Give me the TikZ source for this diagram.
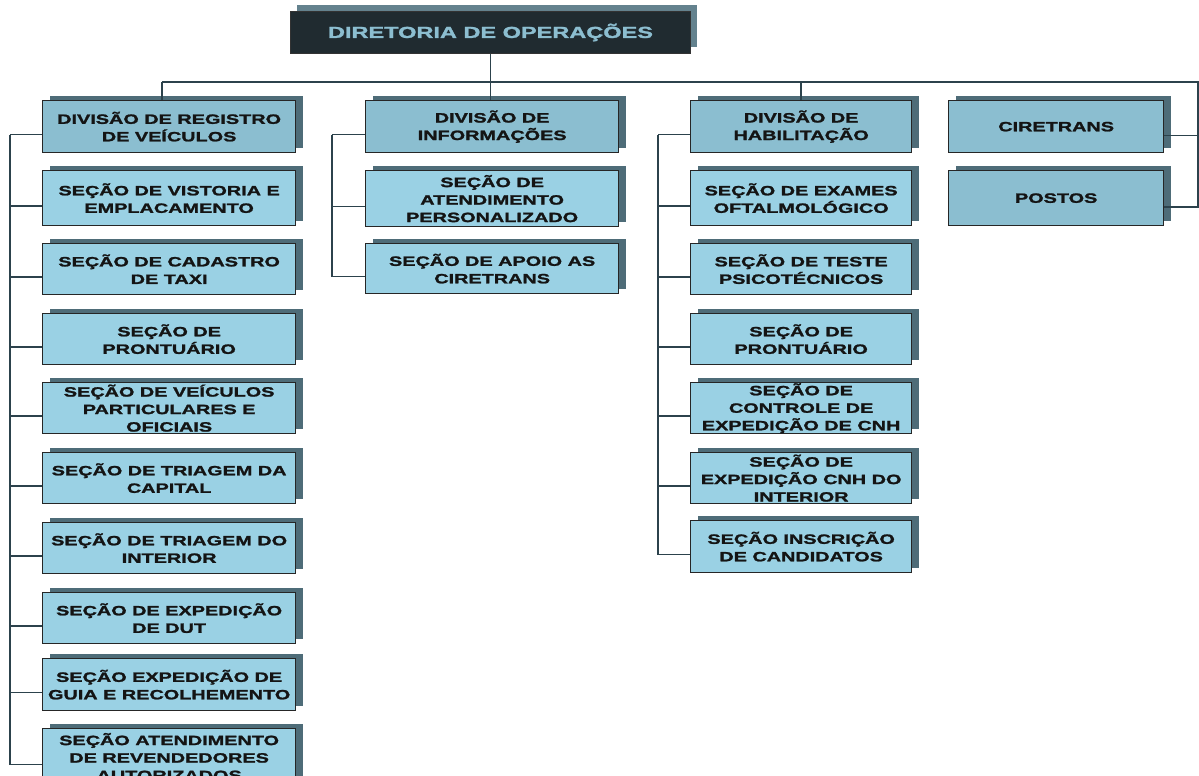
\documentclass[tikz,border=0pt]{standalone}
\usepackage{fontspec}
\newfontfamily\bx{Liberation Sans}[FakeStretch=1.47, BoldFeatures={FakeBold=1.6}]
\usetikzlibrary{calc,shadows}
\definecolor{divc}{RGB}{139,190,208}
\definecolor{secc}{RGB}{154,209,228}
\definecolor{shadowc}{RGB}{78,108,120}
\definecolor{topc}{RGB}{32,43,48}
\definecolor{toptext}{RGB}{140,190,208}
\definecolor{topshadow}{RGB}{100,130,142}
\definecolor{linec}{RGB}{44,66,76}
\tikzset{
  base/.style={draw=black!85, line width=1.3pt, align=center, inner sep=0pt, anchor=north west,
    font=\bx\bfseries\fontsize{13.5}{17.5}\selectfont, text=black!92,
    general shadow={fill=shadowc, shadow xshift=7pt, shadow yshift=5pt}},
  divbox/.style={base, fill=divc},
  secbox/.style={base, fill=secc},
  conn/.style={draw=linec, line width=1.5pt},
}
\begin{document}
\begin{tikzpicture}[x=1pt,y=-1pt]
\clip (0,0) rectangle (1199,776);
\fill[white] (0,0) rectangle (1199,776);
% director
\node[draw=black!80, line width=1pt, fill=topc, text=toptext, minimum width=400pt, minimum height=42pt,
  anchor=north west, inner sep=0pt, font=\bx\bfseries\fontsize{16}{20}\selectfont,
  general shadow={fill=topshadow, shadow xshift=6pt, shadow yshift=6pt}] (D) at (290,11) {DIRETORIA DE OPERAÇÕES};
% left column
\node[divbox, minimum width=253pt, minimum height=52pt] (L1) at (42,100) {DIVISÃO DE REGISTRO\\DE VEÍCULOS};
\node[secbox, minimum width=253pt, minimum height=55pt] (L2) at (42,170) {SEÇÃO DE VISTORIA E\\EMPLACAMENTO};
\node[secbox, minimum width=253pt, minimum height=51pt] (L3) at (42,243) {SEÇÃO DE CADASTRO\\DE TAXI};
\node[secbox, minimum width=253pt, minimum height=51pt] (L4) at (42,313) {SEÇÃO DE\\PRONTUÁRIO};
\node[secbox, minimum width=253pt, minimum height=51pt] (L5) at (42,382) {SEÇÃO DE VEÍCULOS\\PARTICULARES E\\OFICIAIS};
\node[secbox, minimum width=253pt, minimum height=51pt] (L6) at (42,452) {SEÇÃO DE TRIAGEM DA\\CAPITAL};
\node[secbox, minimum width=253pt, minimum height=51pt] (L7) at (42,522) {SEÇÃO DE TRIAGEM DO\\INTERIOR};
\node[secbox, minimum width=253pt, minimum height=51pt] (L8) at (42,592) {SEÇÃO DE EXPEDIÇÃO\\DE DUT};
\node[secbox, minimum width=253pt, minimum height=52pt] (L9) at (42,658) {SEÇÃO EXPEDIÇÃO DE\\GUIA E RECOLHEMENTO};
\node[secbox, minimum width=253pt, minimum height=56pt] (L10) at (42,728) {SEÇÃO ATENDIMENTO\\DE REVENDEDORES\\AUTORIZADOS};
% middle column
\node[divbox, minimum width=253pt, minimum height=52pt] (I1) at (365,100) {DIVISÃO DE\\INFORMAÇÕES};
\node[secbox, minimum width=253pt, minimum height=56pt] (I2) at (365,170) {SEÇÃO DE\\ATENDIMENTO\\PERSONALIZADO};
\node[secbox, minimum width=253pt, minimum height=50pt] (I3) at (365,243) {SEÇÃO DE APOIO AS\\CIRETRANS};
% right column
\node[divbox, minimum width=221pt, minimum height=52pt] (H1) at (690,100) {DIVISÃO DE\\HABILITAÇÃO};
\node[secbox, minimum width=221pt, minimum height=55pt] (H2) at (690,170) {SEÇÃO DE EXAMES\\OFTALMOLÓGICO};
\node[secbox, minimum width=221pt, minimum height=51pt] (H3) at (690,243) {SEÇÃO DE TESTE\\PSICOTÉCNICOS};
\node[secbox, minimum width=221pt, minimum height=51pt] (H4) at (690,313) {SEÇÃO DE\\PRONTUÁRIO};
\node[secbox, minimum width=221pt, minimum height=51pt] (H5) at (690,382) {SEÇÃO DE\\CONTROLE DE\\EXPEDIÇÃO DE CNH};
\node[secbox, minimum width=221pt, minimum height=51pt] (H6) at (690,452) {SEÇÃO DE\\EXPEDIÇÃO CNH DO\\INTERIOR};
\node[secbox, minimum width=221pt, minimum height=52pt] (H7) at (690,520) {SEÇÃO INSCRIÇÃO\\DE CANDIDATOS};
% far right
\node[divbox, minimum width=215pt, minimum height=52pt] (C) at (948,100) {CIRETRANS};
\node[divbox, minimum width=215pt, minimum height=55pt] (P) at (948,170) {POSTOS};
% connectors
\coordinate (busL) at (162,82);
\coordinate (busR) at (1198,82);
\draw[conn] (D.south) -- (D.south |- I1.north);
\draw[conn] (busL) -- (busL |- L1.north);
\draw[conn] (H1.north) -- (H1.north |- busL);
\coordinate (ps) at ($(P.east)+(0,9)$);
\coordinate (cs) at ($(C.east)+(0,9)$);
\draw[conn] (busL) -- (busR) |- (ps);
\draw[conn] (cs) -- (cs -| busR);
% left bracket
\foreach \k in {1,...,10} {\draw[conn] ($(L\k.west)+(0,8)$) -- ++(-32,0);}
\draw[conn] ($(L1.west)+(-32,8)$) -- ($(L10.west)+(-32,8)$);
% middle bracket
\foreach \k in {1,2,3} {\draw[conn] ($(I\k.west)+(0,8)$) -- ++(-33,0);}
\draw[conn] ($(I1.west)+(-33,8)$) -- ($(I3.west)+(-33,8)$);
% right bracket
\foreach \k in {1,...,7} {\draw[conn] ($(H\k.west)+(0,8)$) -- ++(-32,0);}
\draw[conn] ($(H1.west)+(-32,8)$) -- ($(H7.west)+(-32,8)$);
\end{tikzpicture}
\end{document}
